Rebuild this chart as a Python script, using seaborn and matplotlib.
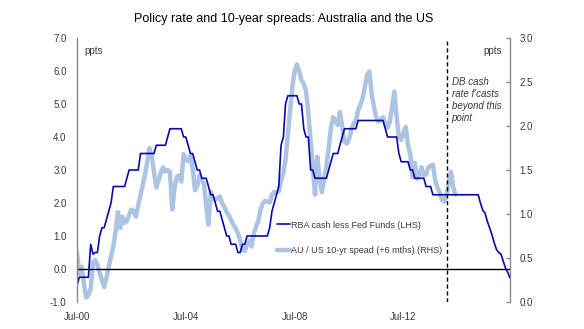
import numpy as np
import pandas as pd
import matplotlib
matplotlib.use("Agg")
import matplotlib.pyplot as plt
import seaborn as sns

# ---------------- data ----------------
start_month = "2000-07-01"

# RBA cash less Fed Funds (LHS), monthly from Jul-00 (incl. forecasts)
rba_less_fed = [
    -0.5, -0.25, -0.25, -0.25, -0.25, -0.25, 0.75, 0.45, 0.5, 0.5, 1.0, 1.25,
    1.25, 1.5, 1.75, 2.0, 2.5, 2.5, 2.5, 2.5, 2.5, 2.5, 2.75, 3.0,
    3.0, 3.0, 3.0, 3.0, 3.5, 3.5, 3.5, 3.5, 3.5, 3.5, 3.5, 3.75,
    3.75, 3.75, 3.75, 3.75, 4.0, 4.25, 4.25, 4.25, 4.25, 4.25, 4.25, 4.0,
    4.0, 3.75, 3.5, 3.5, 3.25, 3.0, 3.0, 2.75, 2.75, 2.75, 2.5, 2.25,
    2.25, 2.0, 1.75, 1.75, 1.5, 1.25, 1.0, 1.0, 0.75, 0.75, 0.75, 0.5,
    0.5, 0.75, 0.75, 1.0, 1.0, 1.0, 1.0, 1.0, 1.0, 1.0, 1.0, 1.0,
    1.0, 1.25, 1.75, 2.0, 2.25, 2.5, 3.75, 4.0, 5.0, 5.25, 5.25, 5.25,
    5.25, 5.25, 5.0, 5.0, 4.25, 4.0, 4.0, 3.0, 3.0, 2.75, 2.75, 2.75,
    2.75, 2.75, 2.75, 3.0, 3.25, 3.5, 3.5, 3.5, 3.75, 4.0, 4.25, 4.25,
    4.25, 4.25, 4.25, 4.25, 4.5, 4.5, 4.5, 4.5, 4.5, 4.5, 4.5, 4.5,
    4.5, 4.5, 4.5, 4.5, 4.25, 4.0, 4.0, 4.0, 4.0, 4.0, 3.5, 3.25,
    3.25, 3.25, 3.25, 3.0, 3.0, 2.75, 2.75, 2.75, 2.75, 2.75, 2.5, 2.5,
    2.5, 2.25, 2.25, 2.25, 2.25, 2.25, 2.25, 2.25, 2.25, 2.25, 2.25, 2.25,
    2.25, 2.25, 2.25, 2.25, 2.25, 2.25, 2.25, 2.25, 2.25, 2.25, 2.0, 1.78,
    1.7, 1.45, 1.25, 1.05, 0.8, 0.6, 0.5, 0.45, 0.25, 0.03, -0.1, -0.27,
]

# AU / US 10-yr spread, shifted +6 months (RHS), monthly from Jul-00
au_us_10yr = [
    0.57, 0.32, 0.40, 0.22, 0.05, 0.08, 0.15, 0.45, 0.48, 0.42, 0.33, 0.25,
    0.17, 0.28, 0.40, 0.52, 0.63, 0.80, 1.02, 0.84, 0.97, 0.90, 0.92, 0.99,
    1.05, 1.03, 0.97, 1.10, 1.22, 1.33, 1.45, 1.60, 1.75, 1.65, 1.48, 1.30,
    1.38, 1.47, 1.53, 1.48, 1.50, 1.48, 1.05, 1.30, 1.42, 1.44, 1.37, 1.68,
    1.62, 1.60, 1.66, 1.52, 1.27, 1.32, 1.44, 1.38, 1.35, 1.10, 0.88, 1.25,
    1.18, 1.16, 1.18, 1.20, 1.12, 1.08, 1.02, 0.98, 0.93, 0.88, 0.84, 0.78,
    0.70, 0.59, 0.58, 0.65, 0.70, 0.63, 0.78, 0.86, 0.92, 1.05, 1.12, 1.15,
    1.14, 1.13, 1.22, 1.25, 1.24, 1.26, 1.38, 1.47, 1.62, 1.90, 2.18, 2.45,
    2.62, 2.70, 2.62, 2.52, 2.48, 2.40, 2.15, 1.84, 1.55, 1.22, 1.65, 1.40,
    1.25, 1.40, 1.54, 1.75, 1.98, 2.10, 2.05, 2.01, 2.16, 2.00, 1.82, 1.80,
    1.85, 1.95, 2.03, 2.05, 2.18, 2.24, 2.32, 2.45, 2.58, 2.62, 2.37, 2.22,
    2.10, 2.05, 2.08, 2.10, 2.03, 1.98, 2.05, 2.22, 2.39, 2.10, 1.88, 1.84,
    1.92, 1.99, 1.78, 1.68, 1.42, 1.58, 1.40, 1.45, 1.53, 1.44, 1.45, 1.53,
    1.55, 1.56, 1.38, 1.30, 1.24, 1.16, 1.14, 1.22, 1.35, 1.48, 1.30, 1.22,
]

x_tick_dates = ["2000-07-01", "2004-07-01", "2008-07-01", "2012-07-01"]
x_tick_labels = ["Jul-00", "Jul-04", "Jul-08", "Jul-12"]
x_end = "2016-06-01"
forecast_date = "2014-02-01"

left_ticks = [-1, 0, 1, 2, 3, 4, 5, 6, 7]
right_ticks = [0.0, 0.5, 1.0, 1.5, 2.0, 2.5, 3.0]

label_rba = "RBA cash less Fed Funds (LHS)"
label_bond = "AU / US 10-yr spead (+6 mths) (RHS)"
title = "Policy rate and 10-year spreads: Australia and the US"
note = "DB cash\nrate f'casts\nbeyond this\npoint"

# ---------------- styling ----------------
sns.set_style("white")
plt.rcParams["font.family"] = ["Liberation Sans", "DejaVu Sans"]

dark_blue = "#0a0aa6"
light_blue = "#adc3e2"
grey = "#8a8a8a"
text_grey = "#3a3a3a"

W, H = 584, 329
fig = plt.figure(figsize=(W / 100, H / 100), dpi=100)
ax = fig.add_axes([77 / W, 1 - 302 / H, (510 - 77) / W, (302 - 38) / H])
ax2 = ax.twinx()

df_rba = pd.DataFrame({
    "date": pd.date_range(start_month, periods=len(rba_less_fed), freq="MS"),
    "value": rba_less_fed,
})
df_bond = pd.DataFrame({
    "date": pd.date_range(start_month, periods=len(au_us_10yr), freq="MS"),
    "value": au_us_10yr,
})

sns.lineplot(data=df_bond, x="date", y="value", ax=ax2, color=light_blue,
             linewidth=3.2, label=label_bond, legend=False)
sns.lineplot(data=df_rba, x="date", y="value", ax=ax, color=dark_blue,
             linewidth=1.2, label=label_rba, legend=False)

# dark line on top
ax.set_zorder(ax2.get_zorder() + 1)
ax.patch.set_visible(False)

ax.axhline(0, color="black", linewidth=1.0, zorder=1)
ax.axvline(pd.Timestamp(forecast_date), color="black", linewidth=1.0,
           linestyle=(0, (3, 2)), ymax=0.99)

ax.set_xlim(pd.Timestamp(start_month), pd.Timestamp(x_end))
ax.set_ylim(-1, 7)
ax2.set_ylim(0, 3)

ax.set_xticks([pd.Timestamp(d) for d in x_tick_dates])
ax.set_xticklabels(x_tick_labels)
ax.set_yticks(left_ticks)
ax.set_yticklabels([f"{v:.1f}" for v in left_ticks])
ax2.set_yticks(right_ticks)
ax2.set_yticklabels([f"{v:.1f}" for v in right_ticks])

for a in (ax, ax2):
    a.set_xlabel("")
    a.set_ylabel("")
    for s in a.spines.values():
        s.set_visible(False)

ax.spines["left"].set_visible(True)
ax.spines["left"].set_color(grey)
ax.spines["left"].set_linewidth(1.0)
ax2.spines["right"].set_visible(True)
ax2.spines["right"].set_color(grey)
ax2.spines["right"].set_linewidth(1.0)

ax.tick_params(axis="y", which="both", length=0, pad=7.5, labelsize=7,
               labelcolor=text_grey)
ax.tick_params(axis="x", which="both", length=0, pad=7, labelsize=7,
               labelcolor=text_grey)
ax2.tick_params(axis="y", which="both", direction="in", length=3, width=1,
                color=grey, pad=7, labelsize=7, labelcolor=text_grey)

ax.text(84 / W, 1 - 51.5 / H, "ppts", transform=fig.transFigure, fontsize=7,
        color=text_grey, ha="left", va="center")
ax.text(502 / W, 1 - 51.5 / H, "ppts", transform=fig.transFigure, fontsize=7,
        color=text_grey, ha="right", va="center")

fig.text(451.5 / W, 1 - 77 / H, note, fontsize=7, style="italic",
         color=text_grey, ha="left", va="top", linespacing=1.25)

fig.text(284 / W, 1 - 19 / H, title, fontsize=9, color="black",
         ha="center", va="center")

h1, l1 = ax.get_legend_handles_labels()
h2, l2 = ax2.get_legend_handles_labels()
fig.legend(h1 + h2, l1 + l2, loc="upper left",
           bbox_to_anchor=(277 / W, 1 - 220.5 / H), frameon=False,
           fontsize=6.5, handlelength=1.45, handletextpad=0.15,
           labelspacing=1.85, borderpad=0, borderaxespad=0,
           labelcolor=text_grey)

fig.savefig("out.png", dpi=100)
